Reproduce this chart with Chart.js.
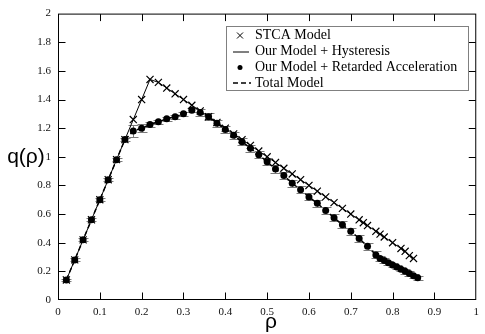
<!DOCTYPE html>
<html>
<head>
<meta charset="utf-8">
<script src="https://cdn.jsdelivr.net/npm/chart.js"></script>
<style>
  body { margin: 0; background: #fff; }
  canvas { display: block; }
</style>
</head>
<body>
<canvas id="flowChart" width="485" height="334"></canvas>
<script>
// fundamental diagram q(rho)

// STCA model (crosses) / hysteresis line
var rhoS = [0.02,0.04,0.06,0.08,0.10,0.12,0.14,0.16,0.18,0.20,0.22,0.24,0.26,0.28,0.30,0.32,0.34,0.36,0.38,0.40,
  0.42,0.44,0.46,0.48,0.50,0.52,0.54,0.56,0.58,0.60,0.62,0.64,0.66,0.68,0.70,0.72,0.73,0.74,0.76,0.77,
  0.78,0.80,0.82,0.83,0.84,0.85];
var qS = [0.14,0.28,0.42,0.56,0.70,0.84,0.98,1.12,1.26,1.40,1.54,1.52,1.48,1.44,1.40,1.36,1.32,1.28,1.24,1.20,
  1.16,1.12,1.08,1.04,1.00,0.96,0.92,0.88,0.84,0.80,0.76,0.72,0.68,0.64,0.60,0.56,0.54,0.52,0.48,0.46,
  0.44,0.40,0.36,0.34,0.31,0.29];

// our model + retarded acceleration (dots with error bars) / total model
var rhoR = [0.02,0.04,0.06,0.08,0.10,0.12,0.14,0.16,0.18,0.20,0.22,0.24,0.26,0.28,0.30,0.32,0.34,0.36,0.38,0.40,
  0.42,0.44,0.46,0.48,0.50,0.52,0.54,0.56,0.58,0.60,0.62,0.64,0.66,0.68,0.70,0.72,0.74,0.76,
  0.77,0.78,0.79,0.80,0.81,0.82,0.83,0.84,0.85,0.86];
var qR = [0.14,0.28,0.42,0.56,0.70,0.84,0.98,1.12,1.18,1.20,1.225,1.245,1.265,1.28,1.30,1.325,1.31,1.28,1.235,1.19,
  1.15,1.105,1.06,1.015,0.965,0.915,0.87,0.815,0.77,0.72,0.675,0.625,0.575,0.525,0.48,0.43,0.375,0.315,
  0.29,0.275,0.26,0.245,0.23,0.215,0.20,0.185,0.17,0.155];
var errR = [0.01,0.01,0.01,0.01,0.01,0.01,0.01,0.01,0.04,0.03,0.015,0.015,0.015,0.015,0.015,0.015,0.025,0.025,0.025,0.025,
  0.025,0.025,0.025,0.025,0.025,0.025,0.025,0.025,0.025,0.025,0.025,0.025,0.025,0.025,0.025,0.025,0.025,0.025,
  0.015,0.015,0.015,0.015,0.015,0.015,0.015,0.015,0.015,0.015];

var xTickLabels = ['0','0.1','0.2','0.3','0.4','0.5','0.6','0.7','0.8','0.9','1'];
var yTickLabels = ['0','0.2','0.4','0.6','0.8','1','1.2','1.4','1.6','1.8','2'];
var legendLabels = ['STCA Model','Our Model + Hysteresis','Our Model + Retarded Acceleration','Total Model'];

function pts(xs, ys) {
  return xs.map(function(x, i) { return { x: x, y: ys[i] }; });
}

var errorBars = {
  id: 'errorBars',
  beforeDatasetsDraw: function(chart) {
    var c = chart.ctx, xs = chart.scales.x, ys = chart.scales.y;
    c.save();
    c.strokeStyle = '#7a7a7a';
    c.lineWidth = 1;
    for (var i = 0; i < rhoR.length; i++) {
      var px = Math.round(xs.getPixelForValue(rhoR[i])) + 0.5;
      var lo = Math.round(ys.getPixelForValue(qR[i] - errR[i])) + 0.5;
      var hi = Math.round(ys.getPixelForValue(qR[i] + errR[i])) + 0.5;
      c.beginPath();
      c.moveTo(px, lo); c.lineTo(px, hi);
      c.moveTo(px - 5, lo); c.lineTo(px + 5, lo);
      c.moveTo(px - 5, hi); c.lineTo(px + 5, hi);
      c.stroke();
    }
    c.restore();
  }
};

var frameAndExtras = {
  id: 'frameAndExtras',
  afterDraw: function(chart) {
    var c = chart.ctx, a = chart.chartArea, xs = chart.scales.x, ys = chart.scales.y;
    var L = a.left + 0.5, R = a.right - 0.5, T = a.top + 0.5, B = a.bottom - 0.5;
    c.save();
    c.strokeStyle = '#000';
    c.lineWidth = 1;
    c.strokeRect(L, T, R - L, B - T);
    // inward ticks on all four sides
    c.beginPath();
    for (var i = 1; i < xTickLabels.length - 1; i++) {
      var px = Math.round(xs.getPixelForValue(i / 10)) + 0.5;
      c.moveTo(px, B); c.lineTo(px, B - 7);
      c.moveTo(px, T); c.lineTo(px, T + 7);
    }
    for (var j = 1; j < yTickLabels.length - 1; j++) {
      var py = Math.round(ys.getPixelForValue(j * 0.2)) + 0.5;
      c.moveTo(L, py); c.lineTo(L + 7, py);
      c.moveTo(R, py); c.lineTo(R - 7, py);
    }
    c.stroke();

    // axis titles
    c.fillStyle = '#000';
    c.font = '21px "Liberation Sans", Arial, sans-serif';
    c.textAlign = 'center';
    c.textBaseline = 'middle';
    c.fillText('q(\u03c1)', 26, 157);
    c.textBaseline = 'alphabetic';
    c.fillText('\u03c1', 271, 328);

    // legend box
    var bx = 226.5, by = 26.5, bw = 242, bh = 64;
    c.fillStyle = '#fff';
    c.fillRect(bx, by, bw, bh);
    c.strokeStyle = '#808080';
    c.strokeRect(bx, by, bw, bh);
    var rows = [35.5, 51.5, 67.5, 83];
    c.strokeStyle = '#000';
    c.fillStyle = '#000';
    // cross
    c.beginPath();
    c.moveTo(237, rows[0] - 3); c.lineTo(243, rows[0] + 3);
    c.moveTo(243, rows[0] - 3); c.lineTo(237, rows[0] + 3);
    c.stroke();
    // solid line
    c.beginPath();
    c.moveTo(233, rows[1] + 0.5); c.lineTo(249, rows[1] + 0.5);
    c.stroke();
    // dot
    c.beginPath();
    c.arc(240, rows[2], 2.5, 0, Math.PI * 2);
    c.fill();
    // dashed
    c.setLineDash([5, 3]);
    c.lineWidth = 1.5;
    c.beginPath();
    c.moveTo(233, rows[3]); c.lineTo(251, rows[3]);
    c.stroke();
    c.setLineDash([]);

    c.font = '14px "Liberation Serif", "Times New Roman", serif';
    c.textAlign = 'left';
    c.textBaseline = 'middle';
    for (var k = 0; k < legendLabels.length; k++) {
      c.fillText(legendLabels[k], 255, rows[k]);
    }
    c.restore();
  }
};

var tickFont = { family: '"Liberation Serif", "Times New Roman", serif', size: 11 };

new Chart(document.getElementById('flowChart'), {
  type: 'scatter',
  data: {
    datasets: [
      {
        label: 'STCA Model',
        data: pts(rhoS, qS),
        showLine: false,
        pointStyle: 'crossRot',
        pointRadius: 5,
        pointBorderWidth: 1.2,
        pointBorderColor: '#000',
        pointBackgroundColor: '#000'
      },
      {
        label: 'Our Model + Retarded Acceleration',
        data: pts(rhoR, qR),
        showLine: false,
        pointStyle: 'circle',
        pointRadius: 3.5,
        pointBorderWidth: 0,
        pointBackgroundColor: '#000'
      },
      {
        label: 'Our Model + Hysteresis',
        data: pts(rhoS, qS),
        showLine: true,
        borderColor: '#000',
        borderWidth: 1,
        pointRadius: 0
      },
      {
        label: 'Total Model',
        data: pts(rhoR, qR),
        showLine: true,
        borderColor: '#000',
        borderWidth: 1.5,
        borderDash: [5, 3],
        pointRadius: 0
      }
    ]
  },
  options: {
    responsive: false,
    animation: false,
    devicePixelRatio: 1,
    layout: { padding: { left: 0, top: 6, right: 4, bottom: 0 } },
    plugins: { legend: { display: false }, tooltip: { enabled: false } },
    scales: {
      x: {
        type: 'linear', min: 0, max: 1,
        afterFit: function(s) { s.height = 34; },
        grid: { display: false, drawTicks: false },
        border: { display: false },
        ticks: {
          stepSize: 0.1, padding: 6, color: '#111', font: tickFont, maxRotation: 0,
          callback: function(v, i) { return xTickLabels[i]; }
        }
      },
      y: {
        type: 'linear', min: 0, max: 2,
        afterFit: function(s) { s.width = 58; },
        grid: { display: false, drawTicks: false },
        border: { display: false },
        ticks: {
          stepSize: 0.2, padding: 7, color: '#111', font: tickFont,
          callback: function(v, i) { return yTickLabels[i]; }
        }
      }
    }
  },
  plugins: [errorBars, frameAndExtras]
});
</script>
</body>
</html>
